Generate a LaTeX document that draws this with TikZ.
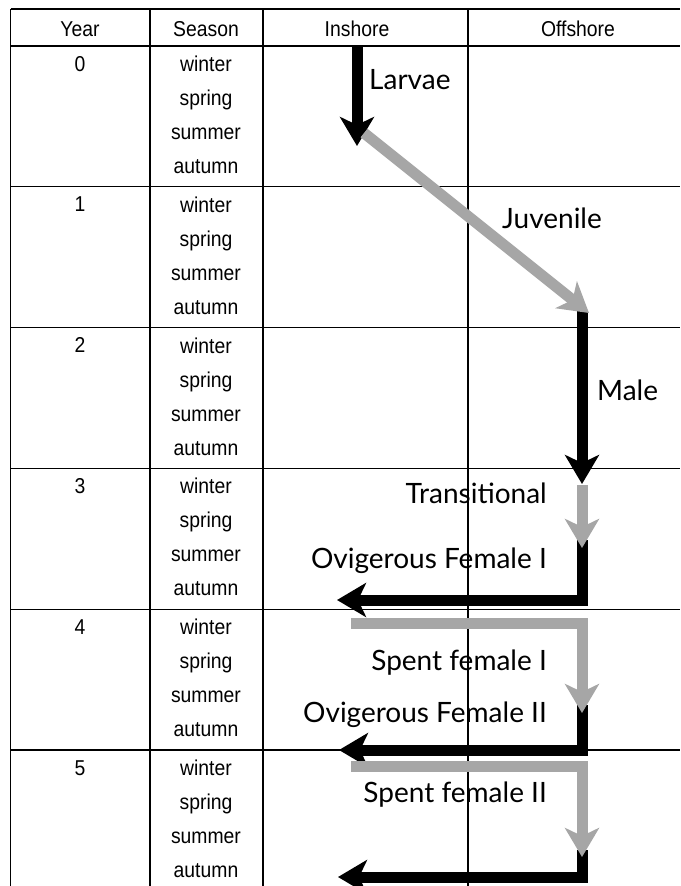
\documentclass[tikz,border=0pt]{standalone}
\usepackage{fontspec}
\setmainfont{Liberation Sans}[FakeStretch=0.9]
\newfontfamily\stagefont{Lato}
\usetikzlibrary{arrows.meta}
\definecolor{stagegrey}{RGB}{166,166,166}

\begin{document}
\begin{tikzpicture}[x=1pt,y=-1pt,
  rule/.style={line width=1.2pt},
  cell/.style={anchor=base, inner sep=0pt, font=\fontsize{21.5}{24}\selectfont},
  stage/.style={inner sep=0pt, font=\stagefont\fontsize{28}{30}\selectfont},
  blk/.style={line width=11pt, line join=miter, -{Stealth[length=29pt,width=34pt,inset=8pt]}},
  gry/.style={blk, draw=stagegrey}]
\useasboundingbox (0,0) rectangle (680,886);

% table
\draw[rule] (10.7,9) -- (680,9);
\draw[rule] (10.7,46) -- (680,46);
\foreach \r in {1,...,5}
  \draw[rule] (10.7,{46+140.8*\r}) -- (680,{46+140.8*\r});
\foreach \x in {10.7,150,263,468}
  \draw[rule] (\x,9) -- (\x,886);

\node[cell] (hyear) at (80,36.7) {Year};
\node[cell] (hseason) at (206,36.7) {Season};
\node[cell] (hin) at (357,36.7) {Inshore};
\node[cell] (hoff) at (578,36.7) {Offshore};

\foreach \n in {0,...,5} {
  \node[cell] (year\n) at (80,{46+140.8*\n+25}) {\n};
  \foreach \s [count=\k from 0] in {winter,spring,summer,autumn}
    \node[cell] (s\n\k) at (206,{46+140.8*\n+25.5+34*\k}) {\s};
}

% stages
\coordinate (larv0) at (357,46);
\coordinate (larv1) at (357,146);
\coordinate (juv0) at (364,133);
\coordinate (juv1) at (589,313);
\coordinate (male0) at (582,311);
\coordinate (male1) at (582,484);
\coordinate (tr0) at (582,485);
\coordinate (tr1) at (582,548);
\coordinate (ofa0) at (582,540);
\coordinate (ofa1) at (337,600);
\coordinate (sfa0) at (351,623);
\coordinate (sfa1) at (582,713);
\coordinate (ofb0) at (582,705);
\coordinate (ofb1) at (339,750);
\coordinate (sfb0) at (351,766);
\coordinate (sfb1) at (582,857);
\coordinate (ofc0) at (582,850);
\coordinate (ofc1) at (338,877);

\draw[blk] (larv0) -- (larv1);
\draw[blk] (male0) -- (male1);
\draw[blk] (ofa0) |- (ofa1);
\draw[blk] (ofb0) |- (ofb1);
\draw[blk] (ofc0) |- (ofc1);

\draw[gry] (juv0) -- (juv1);
\draw[gry] (tr0) -- (tr1);
\draw[gry] (sfa0) -| (sfa1);
\draw[gry] (sfb0) -| (sfb1);

\node[stage, anchor=base west] (larvae) at (369,89) {Larvae};
\node[stage, anchor=base west] (juvenile) at (502,228) {Juvenile};
\node[stage, anchor=base west] (male) at (597,400.7) {Male};
\node[stage, anchor=base east] (trans) at (547,503) {Transitional};
\node[stage, anchor=base east] (ovia) at (547,568) {Ovigerous Female I};
\node[stage, anchor=base east] (spenta) at (547,670) {Spent female I};
\node[stage, anchor=base east] (ovib) at (547,722) {Ovigerous Female II};
\node[stage, anchor=base east] (spentb) at (547,802) {Spent female II};

\end{tikzpicture}
\end{document}
